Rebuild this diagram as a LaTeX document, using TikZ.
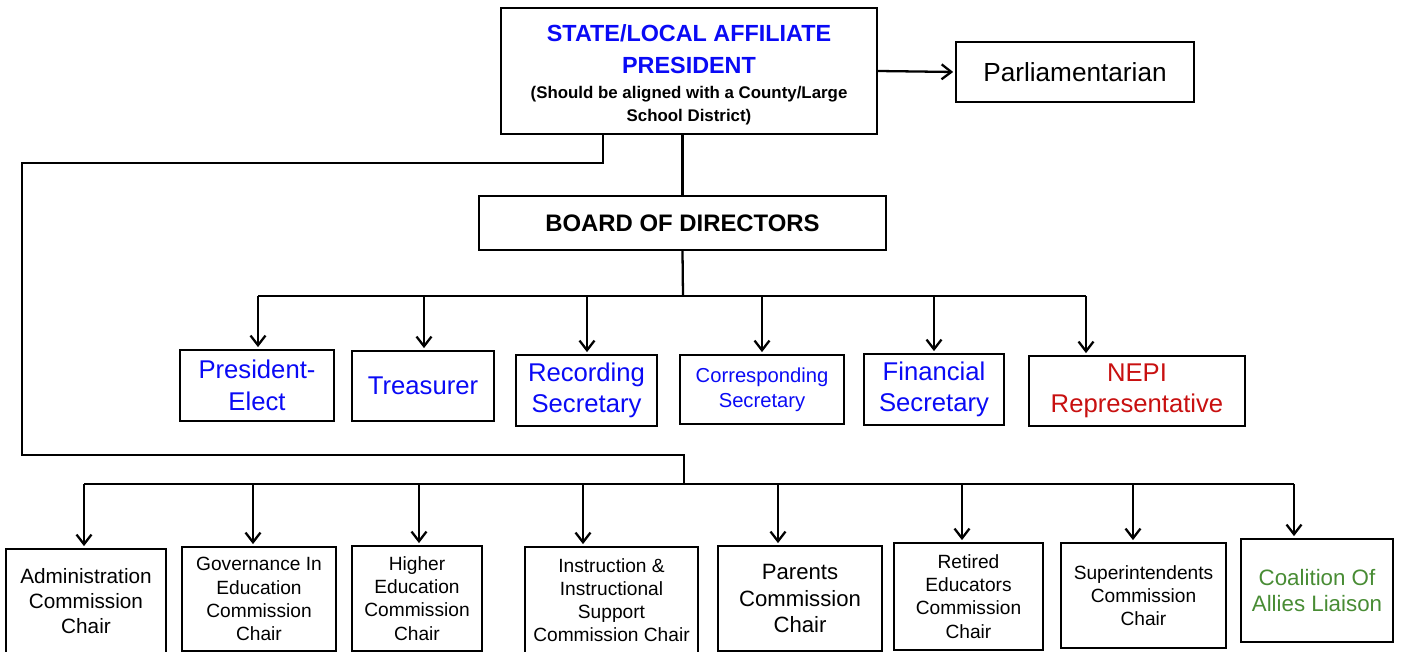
\documentclass[tikz,border=0pt]{standalone}
\usepackage{fontspec}
\setmainfont{Liberation Sans}
\usetikzlibrary{arrows.meta}
\definecolor{officeblue}{RGB}{10,10,245}
\definecolor{nepired}{RGB}{200,16,16}
\definecolor{liaisongreen}{RGB}{72,140,52}
\newcommand\presfont{\fontsize{13.3}{17.6}\selectfont\color{officeblue}}
\newcommand\notefont{\fontsize{9.6}{12.5}\selectfont}
\begin{document}
\begin{tikzpicture}[x=0.02cm,y=-0.02cm,
                 box/.style={draw,line width=1.3pt,align=center,inner sep=0pt},
                 officer/.style={box,text=officeblue,font=\fontsize{14.6}{18}\selectfont},
                 chair/.style={box,font=\fontsize{10.9}{13.2}\selectfont},
                 link/.style={line width=1.3pt},
                 down/.style={link,shorten >=1pt,-{Straight Barb[length=5.5pt,width=8.5pt]}}]
                 \useasboundingbox (0,0) rectangle (1401,652);
                 \node[box,minimum width=7.52cm,minimum height=2.52cm,font=\bfseries\notefont] (pres) at (689,71) {\presfont\rule{0pt}{14pt}STATE/LOCAL AFFILIATE\\[6pt]\presfont PRESIDENT\\[1.5pt]\notefont (Should be aligned with a County/Large\\[0.6pt]\notefont School District)};
                 \node[box,minimum width=4.76cm,minimum height=1.2cm,font=\fontsize{14.9}{17}\selectfont] (parl) at (1075,72) {Parliamentarian};
                 \node[box,minimum width=8.14cm,minimum height=1.08cm,font=\fontsize{13.6}{16}\selectfont\bfseries] (board) at (682.5,223) {BOARD OF DIRECTORS};
                 \node[officer,minimum width=3.08cm,minimum height=1.42cm] (pe) at (257,385.5) {President-\\Elect};
                 \node[officer,minimum width=2.84cm,minimum height=1.40cm] (treas) at (423,386) {Treasurer};
                 \node[officer,minimum width=2.82cm,minimum height=1.42cm] (recsec) at (586.5,390.5) {Recording\\Secretary};
                 \node[officer,minimum width=3.28cm,minimum height=1.38cm,font=\fontsize{11.5}{14}\selectfont] (corsec) at (762,389.5) {Corresponding\\Secretary};
                 \node[officer,minimum width=2.80cm,minimum height=1.42cm] (finsec) at (934,389.5) {Financial\\Secretary};
                 \node[officer,minimum width=4.32cm,minimum height=1.40cm,text=nepired] (nepi) at (1137,391) {NEPI\\Representative};
                 \node[chair,minimum width=3.20cm,minimum height=2.10cm,font=\fontsize{11.8}{14.2}\selectfont] (admin) at (86,601.5) {Administration\\Commission\\Chair};
                 \node[chair,minimum width=3.08cm,minimum height=2.08cm] (gov) at (259,599) {Governance In\\Education\\Commission\\Chair};
                 \node[chair,minimum width=2.60cm,minimum height=2.10cm] (higher) at (417,598.5) {Higher\\Education\\Commission\\Chair};
                 \node[chair,minimum width=3.46cm,minimum height=2.12cm] (instr) at (611.5,600) {Instruction \&\\Instructional\\Support\\Commission Chair};
                 \node[chair,minimum width=3.28cm,minimum height=2.10cm,font=\fontsize{12.6}{15.3}\selectfont] (parents) at (800,598.5) {Parents\\Commission\\Chair};
                 \node[chair,minimum width=2.98cm,minimum height=2.14cm] (retired) at (968.5,596.5) {Retired\\Educators\\Commission\\Chair};
                 \node[chair,minimum width=3.30cm,minimum height=2.10cm] (super) at (1143.5,595.5) {Superintendents\\Commission\\Chair};
                 \node[chair,minimum width=3.04cm,minimum height=2.06cm,font=\fontsize{12.7}{14.7}\selectfont,text=liaisongreen] (allies) at (1317,590.5) {Coalition Of\\Allies Liaison};
                 \coordinate (tap) at (603,163);
                 \coordinate (lt) at (22,163);
                 \coordinate (lb) at (22,455);
                 \coordinate (drop) at (684,455);
                 \coordinate (obus) at (683,296);
                 \coordinate (o1) at (258,296);
                 \coordinate (o2) at (424,296);
                 \coordinate (o3) at (587,296);
                 \coordinate (o4) at (762,296);
                 \coordinate (o5) at (934,296);
                 \coordinate (o6) at (1086,296);
                 \coordinate (cbus) at (684,484);
                 \coordinate (c1) at (84,484);
                 \coordinate (c2) at (253,484);
                 \coordinate (c3) at (419,484);
                 \coordinate (c4) at (583,484);
                 \coordinate (c5) at (778,484);
                 \coordinate (c6) at (962,484);
                 \coordinate (c7) at (1133,484);
                 \coordinate (c8) at (1294,484);
                 \draw[down] (pres.east) -- (parl.west);
                 \draw[link] (board.north |- pres.south) -- (board.north);
                 \draw[link] (tap |- pres.south) -- (tap) -- (lt) -- (lb) -- (drop) -- (cbus);
                 \draw[link] (board.south) -- (obus);
                 \draw[link] (o1) -- (o6);
                 \draw[down] (o1) -- (o1 |- pe.north);
                 \draw[down] (o2) -- (o2 |- treas.north);
                 \draw[down] (o3) -- (o3 |- recsec.north);
                 \draw[down] (o4) -- (o4 |- corsec.north);
                 \draw[down] (o5) -- (o5 |- finsec.north);
                 \draw[down] (o6) -- (o6 |- nepi.north);
                 \draw[link] (c1) -- (c8);
                 \draw[down] (c1) -- (c1 |- admin.north);
                 \draw[down] (c2) -- (c2 |- gov.north);
                 \draw[down] (c3) -- (c3 |- higher.north);
                 \draw[down] (c4) -- (c4 |- instr.north);
                 \draw[down] (c5) -- (c5 |- parents.north);
                 \draw[down] (c6) -- (c6 |- retired.north);
                 \draw[down] (c7) -- (c7 |- super.north);
                 \draw[down] (c8) -- (c8 |- allies.north);
            \end{tikzpicture}
\end{document}
